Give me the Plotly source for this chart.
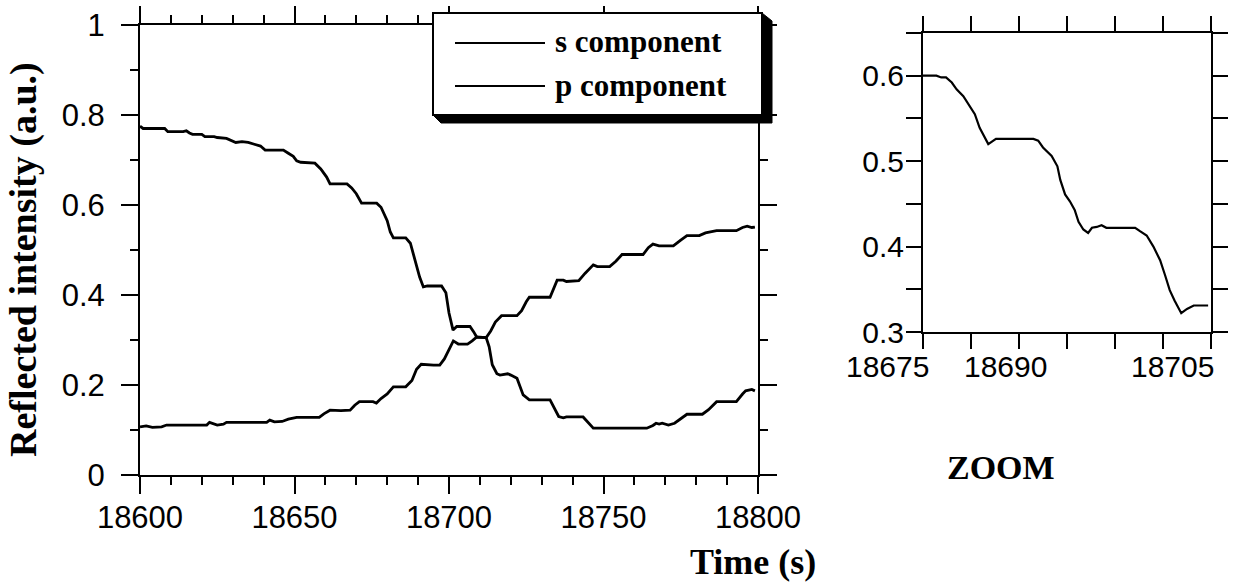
import plotly.graph_objects as go

# ---------------- data ----------------
series_names = ["s component", "p component"]

t_s = [18600, 18601, 18608, 18609, 18614, 18615, 18616, 18617, 18620, 18621, 18624, 18625,
       18628, 18630, 18631, 18633, 18635, 18637, 18639, 18640.5, 18646.4, 18648, 18649.6,
       18650.7, 18652, 18656.6, 18658.5, 18660.4, 18661.5, 18667, 18668.5, 18670, 18671.7,
       18676.6, 18678, 18680, 18681, 18682, 18686, 18687.5, 18689, 18690.5, 18691.7, 18693,
       18697.6, 18699, 18700, 18701.3, 18702.5, 18706.8, 18708, 18709, 18712, 18713, 18714,
       18715.5, 18716.5, 18719, 18720, 18722, 18724, 18726, 18732.7, 18734, 18735.5, 18737,
       18738, 18743.4, 18745, 18746.7, 18764, 18766, 18767, 18768, 18769, 18771, 18773,
       18775, 18777, 18782, 18784, 18786.6, 18793, 18795, 18796, 18798, 18799]
s_vals = [0.775, 0.770, 0.770, 0.763, 0.763, 0.765, 0.760, 0.757, 0.757, 0.752, 0.752, 0.750,
          0.748, 0.742, 0.739, 0.741, 0.739, 0.735, 0.731, 0.722, 0.722, 0.715, 0.708,
          0.698, 0.695, 0.693, 0.680, 0.662, 0.647, 0.647, 0.638, 0.625, 0.604,
          0.604, 0.595, 0.565, 0.540, 0.527, 0.527, 0.515, 0.480, 0.440, 0.418, 0.420,
          0.420, 0.405, 0.360, 0.322, 0.330, 0.330, 0.318, 0.306, 0.306, 0.285, 0.245,
          0.225, 0.222, 0.225, 0.222, 0.215, 0.178, 0.167, 0.167, 0.150, 0.130, 0.127,
          0.129, 0.129, 0.118, 0.104, 0.104, 0.110, 0.115, 0.113, 0.115, 0.111, 0.115,
          0.125, 0.135, 0.135, 0.145, 0.163, 0.163, 0.180, 0.187, 0.190, 0.187]

t_p = [18600, 18602, 18604, 18607, 18608.6, 18621.6, 18622.5, 18623.5, 18625, 18627, 18628,
       18641, 18642, 18643.5, 18646, 18648, 18650.7, 18658, 18659.5, 18661.5, 18665, 18668,
       18669.5, 18671, 18675.4, 18676.5, 18678, 18680, 18682, 18686, 18688, 18689.5, 18691,
       18695, 18697, 18698.5, 18700, 18701.4, 18703, 18706, 18707.5, 18709, 18712, 18713.5,
       18715, 18717, 18722, 18723.5, 18725, 18726, 18732.7, 18734, 18735, 18737, 18738,
       18742, 18744, 18746.7, 18748, 18752, 18754, 18756, 18762.8, 18764.5, 18766, 18768,
       18772.6, 18775, 18777, 18781, 18783, 18786.6, 18793, 18795, 18796.5, 18798, 18799]
p_vals = [0.107, 0.109, 0.106, 0.107, 0.111, 0.111, 0.117, 0.114, 0.111, 0.113, 0.117,
          0.117, 0.122, 0.118, 0.119, 0.124, 0.128, 0.128, 0.136, 0.144, 0.143, 0.144,
          0.155, 0.163, 0.163, 0.160, 0.170, 0.180, 0.196, 0.196, 0.210, 0.235, 0.246,
          0.244, 0.244, 0.258, 0.280, 0.298, 0.291, 0.291, 0.298, 0.307, 0.305, 0.320,
          0.340, 0.354, 0.354, 0.365, 0.385, 0.395, 0.395, 0.415, 0.433, 0.433, 0.430,
          0.432, 0.448, 0.467, 0.463, 0.463, 0.475, 0.490, 0.490, 0.505, 0.513, 0.509,
          0.509, 0.522, 0.532, 0.532, 0.538, 0.543, 0.543, 0.550, 0.553, 0.550, 0.551]

t_zoom = [18675, 18676.4, 18676.9, 18677.4, 18678.0, 18678.5, 18679.2, 18679.7, 18680.4,
          18680.9, 18681.8, 18682.6, 18686.5, 18687.0, 18687.5, 18688.4, 18689.0, 18689.3,
          18689.8, 18690.3, 18690.8, 18691.2, 18691.7, 18692.2, 18692.6, 18693.1, 18693.6,
          18694.1, 18697.1, 18697.6, 18698.3, 18699.0, 18699.7, 18700.2, 18700.7, 18701.2,
          18701.9, 18702.5, 18703.2, 18704.7]
zoom_vals = [0.600, 0.600, 0.598, 0.598, 0.592, 0.584, 0.576, 0.567, 0.555,
             0.539, 0.520, 0.526, 0.526, 0.524, 0.516, 0.506, 0.494, 0.478,
             0.461, 0.453, 0.443, 0.429, 0.420, 0.416, 0.422, 0.423, 0.425,
             0.422, 0.422, 0.418, 0.413, 0.400, 0.384, 0.367, 0.349, 0.337,
             0.322, 0.327, 0.331, 0.331]

zoom_tick_labels = ["18675", "18690", "18705"]
zoom_x_ticks = [18675, 18680, 18685, 18690, 18695, 18700, 18705]

# ---------------- layout helpers ----------------
W, H = 1256, 588
def fx(p):
    return p / W
def fy(p):
    return 1 - p / H

SANS = "Arial, Liberation Sans, sans-serif"
SERIF = "Times New Roman, Liberation Serif, serif"

fig = go.Figure()
fig.add_trace(go.Scatter(x=t_s, y=s_vals, mode="lines", name=series_names[0],
                         line=dict(color="black", width=2.8), xaxis="x", yaxis="y",
                         showlegend=False))
fig.add_trace(go.Scatter(x=t_p, y=p_vals, mode="lines", name=series_names[1],
                         line=dict(color="black", width=2.8), xaxis="x", yaxis="y",
                         showlegend=False))
fig.add_trace(go.Scatter(x=t_zoom, y=zoom_vals, mode="lines", name="zoom",
                         line=dict(color="black", width=2.2), xaxis="x2", yaxis="y2",
                         showlegend=False))

axis_common = dict(showgrid=False, zeroline=False, showline=True, linecolor="black",
                   linewidth=2, ticks="outside", tickcolor="black", tickwidth=2,
                   mirror="allticks", automargin=False)

fig.update_layout(
    template="none",
    width=W, height=H,
    margin=dict(l=0, r=0, t=0, b=0, pad=0, autoexpand=False),
    paper_bgcolor="white", plot_bgcolor="white",
    showlegend=False,
    xaxis=dict(domain=[fx(140), fx(758)], range=[18600, 18800], dtick=50, tick0=18600,
               tickformat="d", ticklen=17,
               tickfont=dict(family=SANS, size=31, color="black"),
               ticklabelstandoff=-3,
               minor=dict(dtick=10, ticklen=8, tickwidth=2, tickcolor="black", ticks="outside"),
               anchor="y", **axis_common),
    yaxis=dict(domain=[fy(475), fy(25)], range=[0, 1], dtick=0.2, tick0=0,
               ticklen=17, tickfont=dict(family=SANS, size=31, color="black"),
               ticklabelstandoff=10,
               minor=dict(dtick=0.1, ticklen=8, tickwidth=2, tickcolor="black", ticks="outside"),
               anchor="x", **axis_common),
    xaxis2=dict(domain=[fx(923), fx(1211)], range=[18675, 18705], tickvals=zoom_x_ticks,
                ticklen=15, showticklabels=False, anchor="y2", **axis_common),
    yaxis2=dict(domain=[fy(332), fy(33)], range=[0.3, 0.65], dtick=0.1, tick0=0.3,
                ticklen=15, tickfont=dict(family=SANS, size=30, color="black"),
                ticklabelstandoff=-4,
                minor=dict(dtick=0.05, tick0=0.3, ticklen=15, tickwidth=2, tickcolor="black",
                           ticks="outside"),
                anchor="x2", **axis_common),
)

shapes = []
# legend drop shadow
pts = [(433, 115), (441, 123), (772, 123), (772, 21), (762, 13), (762, 115)]
path = "M " + " L ".join(f"{fx(x):.5f},{fy(y):.5f}" for x, y in pts) + " Z"
shapes.append(dict(type="path", path=path, xref="paper", yref="paper",
                   fillcolor="black", line=dict(color="black", width=1), layer="above"))
# legend box
shapes.append(dict(type="rect", xref="paper", yref="paper",
                   x0=fx(433), x1=fx(762), y0=fy(115), y1=fy(13),
                   fillcolor="white", line=dict(color="black", width=2), layer="above"))
annotations = []
for name, yy in zip(series_names, [43, 86]):
    shapes.append(dict(type="line", xref="paper", yref="paper",
                       x0=fx(455), x1=fx(545), y0=fy(yy), y1=fy(yy),
                       line=dict(color="black", width=2), layer="above"))
    annotations.append(dict(text=f"<b>{name}</b>", xref="paper", yref="paper",
                            x=fx(553), y=fy(yy - 1), xanchor="left", yanchor="middle",
                            showarrow=False, font=dict(family=SERIF, size=31, color="black")))

# zoom panel tick labels (placed as in the original figure)
zoom_label_px = [888, 1005, 1172]
for lab, px in zip(zoom_tick_labels, zoom_label_px):
    annotations.append(dict(text=lab, xref="paper", yref="paper", x=fx(px), y=fy(366),
                            xanchor="center", yanchor="middle", showarrow=False,
                            font=dict(family=SANS, size=30, color="black")))

annotations.append(dict(text="<b>Reflected intensity (a.u.)</b>", xref="paper", yref="paper",
                        x=fx(23), y=fy(260), textangle=-90, xanchor="center", yanchor="middle",
                        showarrow=False, font=dict(family=SERIF, size=38, color="black")))
annotations.append(dict(text="<b>Time (s)</b>", xref="paper", yref="paper",
                        x=fx(753), y=fy(562), xanchor="center", yanchor="middle",
                        showarrow=False, font=dict(family=SERIF, size=36, color="black")))
annotations.append(dict(text="<b>ZOOM</b>", xref="paper", yref="paper",
                        x=fx(1001), y=fy(467), xanchor="center", yanchor="middle",
                        showarrow=False, font=dict(family=SERIF, size=34, color="black")))

fig.update_layout(shapes=shapes, annotations=annotations)
fig.write_html("out.html")
